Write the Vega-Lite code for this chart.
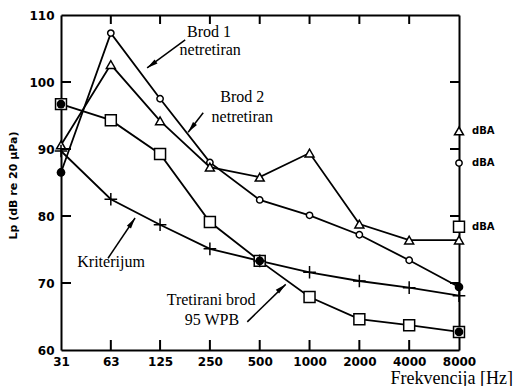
{
  "$schema": "https://vega.github.io/schema/vega-lite/v6.json",
  "width": 398,
  "height": 335,
  "autosize": "none",
  "padding": {"left": 61, "top": 15, "right": 61, "bottom": 36},
  "background": "white",
  "config": {
    "view": {"stroke": null},
    "axis": {
      "grid": false,
      "ticks": false,
      "domainColor": "black",
      "domainWidth": 2,
      "labelColor": "black",
      "labelFont": "DejaVu Sans",
      "labelFontWeight": "bold",
      "labelFontSize": 12,
      "titleColor": "black"
    }
  },
  "datasets": {
    "nivoi": [
      {"serija": "Brod 1", "f": 31.5, "Lp": 86.5},
      {"serija": "Brod 1", "f": 63, "Lp": 107.3},
      {"serija": "Brod 1", "f": 125, "Lp": 97.5},
      {"serija": "Brod 1", "f": 250, "Lp": 88},
      {"serija": "Brod 1", "f": 500, "Lp": 82.4},
      {"serija": "Brod 1", "f": 1000, "Lp": 80.1},
      {"serija": "Brod 1", "f": 2000, "Lp": 77.2},
      {"serija": "Brod 1", "f": 4000, "Lp": 73.4},
      {"serija": "Brod 1", "f": 8000, "Lp": 69.4},
      {"serija": "Brod 2", "f": 31.5, "Lp": 90.6},
      {"serija": "Brod 2", "f": 63, "Lp": 102.6},
      {"serija": "Brod 2", "f": 125, "Lp": 94.2},
      {"serija": "Brod 2", "f": 250, "Lp": 87.3},
      {"serija": "Brod 2", "f": 500, "Lp": 85.8},
      {"serija": "Brod 2", "f": 1000, "Lp": 89.4},
      {"serija": "Brod 2", "f": 2000, "Lp": 78.8},
      {"serija": "Brod 2", "f": 4000, "Lp": 76.4},
      {"serija": "Brod 2", "f": 8000, "Lp": 76.4},
      {"serija": "Tretirani brod", "f": 31.5, "Lp": 96.7},
      {"serija": "Tretirani brod", "f": 63, "Lp": 94.3},
      {"serija": "Tretirani brod", "f": 125, "Lp": 89.25},
      {"serija": "Tretirani brod", "f": 250, "Lp": 79.1},
      {"serija": "Tretirani brod", "f": 500, "Lp": 73.3},
      {"serija": "Tretirani brod", "f": 1000, "Lp": 67.9},
      {"serija": "Tretirani brod", "f": 2000, "Lp": 64.6},
      {"serija": "Tretirani brod", "f": 4000, "Lp": 63.7},
      {"serija": "Tretirani brod", "f": 8000, "Lp": 62.7},
      {"serija": "Kriterijum", "f": 31.5, "Lp": 89.7},
      {"serija": "Kriterijum", "f": 63, "Lp": 82.5},
      {"serija": "Kriterijum", "f": 125, "Lp": 78.7},
      {"serija": "Kriterijum", "f": 250, "Lp": 75.1},
      {"serija": "Kriterijum", "f": 500, "Lp": 73.3},
      {"serija": "Kriterijum", "f": 1000, "Lp": 71.6},
      {"serija": "Kriterijum", "f": 2000, "Lp": 70.3},
      {"serija": "Kriterijum", "f": 4000, "Lp": 69.3},
      {"serija": "Kriterijum", "f": 8000, "Lp": 68.1}
    ],
    "ukupno_dBA": [
      {"serija": "Brod 2", "f": 8000, "Lp": 92.7},
      {"serija": "Brod 1", "f": 8000, "Lp": 87.9},
      {"serija": "Tretirani brod", "f": 8000, "Lp": 78.4}
    ],
    "pune_tacke": [
      {"f": 31.5, "Lp": 96.7},
      {"f": 31.5, "Lp": 86.5},
      {"f": 500, "Lp": 73.3},
      {"f": 8000, "Lp": 69.4},
      {"f": 8000, "Lp": 62.7}
    ],
    "natpisi": [
      {"tekst": "Brod 1", "f": 247, "Lp": 107.4},
      {"tekst": "netretiran", "f": 251, "Lp": 104.8},
      {"tekst": "Brod 2", "f": 392, "Lp": 97.8},
      {"tekst": "netretiran", "f": 392, "Lp": 94.8},
      {"tekst": "Kriterijum", "f": 63.2, "Lp": 73.1},
      {"tekst": "Tretirani brod", "f": 254, "Lp": 67.5},
      {"tekst": "95 WPB", "f": 257, "Lp": 64.5}
    ],
    "strelice": [
      {"f": 104.4, "Lp": 102.1, "f2": 177.3, "Lp2": 106.3},
      {"f": 184.8, "Lp": 92.5, "f2": 227.8, "Lp2": 95.4},
      {"f": 88.3, "Lp": 79.7, "f2": 60.6, "Lp2": 73.7},
      {"f": 718, "Lp": 69.8, "f2": 420.5, "Lp2": 64.2}
    ],
    "podela_f": [
      {"f": 63}, {"f": 125}, {"f": 250}, {"f": 500},
      {"f": 1000}, {"f": 2000}, {"f": 4000}
    ],
    "podela_Lp": [
      {"Lp": 70}, {"Lp": 80}, {"Lp": 90}, {"Lp": 100}
    ],
    "jedna": [{}]
  },
  "resolve": {"axis": {"x": "independent", "y": "independent"}},
  "layer": [
    {
      "data": {"name": "nivoi"},
      "mark": {"type": "line", "color": "black", "strokeWidth": 1.8},
      "encoding": {
        "x": {
          "field": "f", "type": "quantitative",
          "scale": {"type": "log", "base": 2, "domain": [31.5, 8000], "nice": false},
          "axis": {
            "orient": "bottom",
            "values": [31.5, 63, 125, 250, 500, 1000, 2000, 4000, 8000],
            "labelExpr": "datum.value < 40 ? '31' : format(datum.value, 'd')",
            "labelPadding": 6,
            "labelFlush": false,
            "labelOverlap": false,
            "title": "Frekvencija [Hz]",
            "titleFont": "Liberation Serif",
            "titleFontSize": 18,
            "titleFontWeight": "normal",
            "titleAnchor": "start",
            "titleAlign": "left",
            "titleBaseline": "middle",
            "titleX": 329,
            "titleY": 28
          }
        },
        "y": {
          "field": "Lp", "type": "quantitative",
          "scale": {"domain": [60, 110], "nice": false, "zero": false},
          "axis": {
            "orient": "left",
            "values": [60, 70, 80, 90, 100, 110],
            "labelPadding": 7,
            "labelFlush": false,
            "labelOverlap": false,
            "title": "Lp (dB re 20 µPa)",
            "titleFont": "DejaVu Sans",
            "titleFontSize": 11,
            "titleFontWeight": "bold",
            "titleAngle": -90,
            "titleAlign": "center",
            "titleBaseline": "middle",
            "titleX": -48,
            "titleY": 170
          }
        },
        "detail": {"field": "serija", "type": "nominal"}
      }
    },
    {
      "data": {"name": "podela_f"},
      "mark": {"type": "tick", "orient": "vertical", "size": 10, "thickness": 2, "yOffset": -5, "color": "black", "opacity": 1},
      "encoding": {
        "x": {"field": "f", "type": "quantitative", "axis": null},
        "y": {"datum": 60, "type": "quantitative", "axis": null}
      }
    },
    {
      "data": {"name": "podela_f"},
      "mark": {"type": "tick", "orient": "vertical", "size": 9, "thickness": 2, "yOffset": 4.5, "color": "black", "opacity": 1},
      "encoding": {
        "x": {"field": "f", "type": "quantitative", "axis": null},
        "y": {"datum": 110, "type": "quantitative", "axis": null}
      }
    },
    {
      "data": {"name": "podela_Lp"},
      "mark": {"type": "tick", "orient": "horizontal", "size": 10, "thickness": 2, "xOffset": 5, "color": "black", "opacity": 1},
      "encoding": {
        "y": {"field": "Lp", "type": "quantitative", "axis": null},
        "x": {"datum": 31.5, "type": "quantitative", "axis": null}
      }
    },
    {
      "data": {"name": "podela_Lp"},
      "mark": {"type": "tick", "orient": "horizontal", "size": 9, "thickness": 2, "xOffset": -4.5, "color": "black", "opacity": 1},
      "encoding": {
        "y": {"field": "Lp", "type": "quantitative", "axis": null},
        "x": {"datum": 8000, "type": "quantitative", "axis": null}
      }
    },
    {
      "data": {"name": "nivoi"},
      "mark": {"type": "point", "filled": true, "fill": "white", "stroke": "black", "strokeWidth": 1.5, "opacity": 1},
      "encoding": {
        "x": {"field": "f", "type": "quantitative", "axis": null},
        "y": {"field": "Lp", "type": "quantitative", "axis": null},
        "shape": {
          "field": "serija", "type": "nominal", "legend": null,
          "scale": {
            "domain": ["Brod 1", "Brod 2", "Tretirani brod", "Kriterijum"],
            "range": ["circle", "triangle-up", "square", "M-1,0H1M0,-1V1"]
          }
        },
        "size": {
          "field": "serija", "type": "nominal", "legend": null,
          "scale": {
            "domain": ["Brod 1", "Brod 2", "Tretirani brod", "Kriterijum"],
            "range": [40, 160, 64, 56]
          }
        }
      }
    },
    {
      "data": {"name": "ukupno_dBA"},
      "mark": {"type": "point", "filled": true, "fill": "white", "stroke": "black", "strokeWidth": 1.5, "opacity": 1},
      "encoding": {
        "x": {
          "field": "f", "type": "quantitative",
          "axis": {"orient": "top", "labels": false, "title": null}
        },
        "y": {
          "field": "Lp", "type": "quantitative",
          "axis": {"orient": "right", "labels": false, "title": null}
        },
        "shape": {"field": "serija", "type": "nominal", "legend": null},
        "size": {"field": "serija", "type": "nominal", "legend": null}
      }
    },
    {
      "data": {"name": "ukupno_dBA"},
      "mark": {"type": "text", "text": "dBA", "align": "left", "baseline": "middle", "dx": 13, "font": "DejaVu Sans", "fontWeight": "bold", "fontSize": 10, "color": "black"},
      "encoding": {
        "x": {"field": "f", "type": "quantitative", "axis": null},
        "y": {"field": "Lp", "type": "quantitative", "axis": null}
      }
    },
    {
      "data": {"name": "pune_tacke"},
      "mark": {"type": "point", "shape": "circle", "filled": true, "color": "black", "size": 75, "opacity": 1},
      "encoding": {
        "x": {"field": "f", "type": "quantitative", "axis": null},
        "y": {"field": "Lp", "type": "quantitative", "axis": null}
      }
    },
    {
      "data": {"name": "natpisi"},
      "mark": {"type": "text", "align": "center", "baseline": "middle", "font": "Liberation Serif", "fontSize": 16, "color": "black"},
      "encoding": {
        "x": {"field": "f", "type": "quantitative", "axis": null},
        "y": {"field": "Lp", "type": "quantitative", "axis": null},
        "text": {"field": "tekst", "type": "nominal"}
      }
    },
    {
      "data": {"name": "strelice"},
      "mark": {"type": "rule", "color": "black", "strokeWidth": 1.5},
      "encoding": {
        "x": {"field": "f", "type": "quantitative", "axis": null},
        "y": {"field": "Lp", "type": "quantitative", "axis": null},
        "x2": {"field": "f2"},
        "y2": {"field": "Lp2"}
      }
    },
    {
      "data": {"name": "jedna"},
      "mark": {"type": "point", "shape": "M0,0L0.5,2.2L-0.5,2.2Z", "filled": true, "color": "black", "size": 100, "opacity": 1, "angle": 234},
      "encoding": {
        "x": {"datum": 104.4, "type": "quantitative", "axis": null},
        "y": {"datum": 102.1, "type": "quantitative", "axis": null}
      }
    },
    {
      "data": {"name": "jedna"},
      "mark": {"type": "point", "shape": "M0,0L0.5,2.2L-0.5,2.2Z", "filled": true, "color": "black", "size": 100, "opacity": 1, "angle": 218},
      "encoding": {
        "x": {"datum": 184.8, "type": "quantitative", "axis": null},
        "y": {"datum": 92.5, "type": "quantitative", "axis": null}
      }
    },
    {
      "data": {"name": "jedna"},
      "mark": {"type": "point", "shape": "M0,0L0.5,2.2L-0.5,2.2Z", "filled": true, "color": "black", "size": 100, "opacity": 1, "angle": 34},
      "encoding": {
        "x": {"datum": 88.3, "type": "quantitative", "axis": null},
        "y": {"datum": 79.7, "type": "quantitative", "axis": null}
      }
    },
    {
      "data": {"name": "jedna"},
      "mark": {"type": "point", "shape": "M0,0L0.5,2.2L-0.5,2.2Z", "filled": true, "color": "black", "size": 100, "opacity": 1, "angle": 49},
      "encoding": {
        "x": {"datum": 718, "type": "quantitative", "axis": null},
        "y": {"datum": 69.8, "type": "quantitative", "axis": null}
      }
    }
  ]
}
